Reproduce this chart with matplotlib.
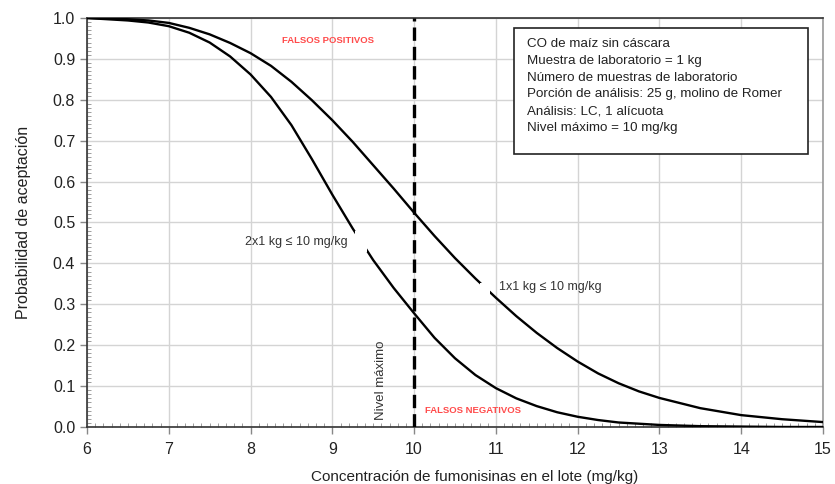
import matplotlib
matplotlib.use("Agg")
import matplotlib.pyplot as plt
from matplotlib.ticker import MultipleLocator
from matplotlib.patches import Rectangle
import numpy as np

plt.rcParams['font.family'] = ['Liberation Sans', 'DejaVu Sans']

# Concentration (mg/kg) and acceptance probabilities
conc = [6.0, 6.5, 6.75, 7.0, 7.25, 7.5, 7.75, 8.0, 8.25, 8.5, 8.75, 9.0, 9.25, 9.5, 9.75,
        10.0, 10.25, 10.5, 10.75, 11.0, 11.25, 11.5, 11.75, 12.0, 12.25, 12.5, 12.75,
        13.0, 13.5, 14.0, 14.5, 15.0]
p_1x1 = [1.000, 0.997, 0.994, 0.988, 0.976, 0.960, 0.939, 0.914, 0.883, 0.844, 0.799, 0.750,
         0.697, 0.640, 0.583, 0.524, 0.467, 0.413, 0.363, 0.316, 0.271, 0.230, 0.193,
         0.160, 0.131, 0.107, 0.087, 0.071, 0.046, 0.029, 0.019, 0.012]
p_2x1 = [1.000, 0.994, 0.989, 0.980, 0.964, 0.940, 0.906, 0.862, 0.807, 0.738, 0.655, 0.568,
         0.485, 0.408, 0.340, 0.278, 0.218, 0.168, 0.127, 0.095, 0.070, 0.051, 0.036,
         0.025, 0.017, 0.011, 0.008, 0.005, 0.002, 0.001, 0.000, 0.000]

xticks = [6, 7, 8, 9, 10, 11, 12, 13, 14, 15]
yticks = [0.0, 0.1, 0.2, 0.3, 0.4, 0.5, 0.6, 0.7, 0.8, 0.9, 1.0]
max_level = 10

info_lines = [
    "CO de maíz sin cáscara",
    "Muestra de laboratorio = 1 kg",
    "Número de muestras de laboratorio",
    "Porción de análisis: 25 g, molino de Romer",
    "Análisis: LC, 1 alícuota",
    "Nivel máximo = 10 mg/kg",
]

fig = plt.figure(figsize=(8.35, 4.84), dpi=100)
ax = fig.add_axes([0.1042, 0.1178, 0.8814, 0.845])

ax.set_xlim(6, 15)
ax.set_ylim(0, 1.0)
ax.set_xticks(xticks)
ax.set_yticks(yticks)
ax.set_yticklabels([f"{v:.1f}" for v in yticks])
ax.xaxis.set_minor_locator(MultipleLocator(0.1))
ax.yaxis.set_minor_locator(MultipleLocator(0.01))
ax.tick_params(axis='both', which='major', direction='out', length=5, color='#888888',
               labelsize=11.5, labelcolor='#222222', width=1)
ax.tick_params(axis='x', which='major', pad=6)
ax.tick_params(axis='both', which='minor', direction='in', length=3, color='#777777', width=0.5)
ax.grid(True, which='major', color='#d4d4d4', lw=1)
ax.set_axisbelow(True)
for s in ax.spines.values():
    s.set_color('#333333')
    s.set_linewidth(1.2)
ax.spines['right'].set_color('#999999')

ax.plot(conc, p_1x1, color='black', lw=1.7, zorder=3)
ax.plot(conc, p_2x1, color='black', lw=1.7, zorder=3)
ax.axvline(max_level, color='black', lw=2.4, linestyle=(0, (4, 1.8)), zorder=4)

# white masks that open the curves next to their labels
ax.add_patch(Rectangle((9.28, 0.428), 0.14, 0.052, facecolor='white', edgecolor='none', zorder=4))
ax.add_patch(Rectangle((10.81, 0.316), 0.12, 0.036, facecolor='white', edgecolor='none', zorder=4))

ax.text(7.93, 0.452, "2x1 kg ≤ 10 mg/kg", fontsize=9, color='#333333', ha='left', va='center', zorder=5)
ax.text(11.04, 0.342, "1x1 kg ≤ 10 mg/kg", fontsize=9, color='#333333', ha='left', va='center', zorder=5)

ax.text(8.95, 0.946, "FALSOS POSITIVOS", fontsize=6.8, color='#ff4b4b', fontweight='bold',
        ha='center', va='center')
ax.text(10.72, 0.04, "FALSOS NEGATIVOS", fontsize=6.8, color='#ff4b4b', fontweight='bold',
        ha='center', va='center')
ax.text(9.59, 0.115, "Nivel máximo", fontsize=9.5, color='#333333', rotation=90,
        ha='center', va='center')

ax.add_patch(Rectangle((0.580, 0.6675), 0.400, 0.308, transform=ax.transAxes,
                       facecolor='white', edgecolor='#222222', lw=1.2, zorder=6))
ax.text(0.598, 0.952, "\n".join(info_lines), transform=ax.transAxes, fontsize=9.6,
        color='#222222', ha='left', va='top', linespacing=1.55, zorder=7)

ax.set_xlabel("Concentración de fumonisinas en el lote (mg/kg)", fontsize=11, color='#222222', labelpad=10)
ax.xaxis.set_label_coords(0.527, -0.105)
ax.set_ylabel("Probabilidad de aceptación", fontsize=11.5, color='#222222', labelpad=16)

fig.savefig("out.png", dpi=100)
